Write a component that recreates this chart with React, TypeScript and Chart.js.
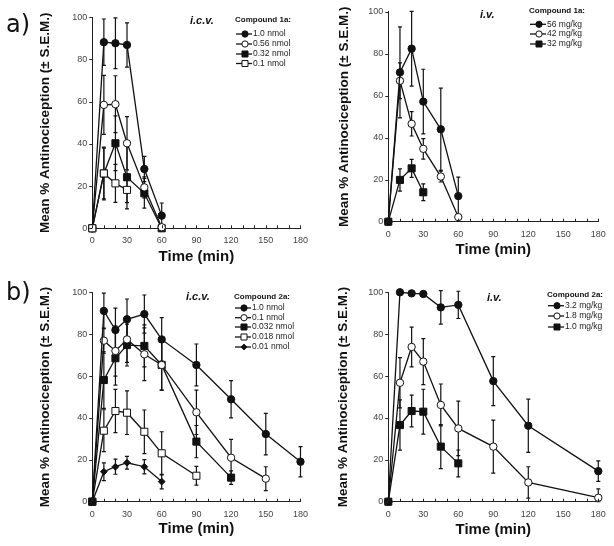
import { useEffect, useRef } from 'react';
import { Chart, registerables } from 'chart.js';
Chart.register(...registerables);

// ---------- DATA ----------
const timesShort = [0, 10, 20, 30, 45, 60];
const timesShort3 = [0, 10, 20, 30];
const timesLong = [0, 10, 20, 30, 45, 60, 90, 120, 150, 180];
const timesIv2 = [0, 10, 20, 30, 45, 60, 90, 120, 180];

// a) Compound 1a i.c.v.
const icv1a_10 = [0, 88.2, 87.7, 86.9, 28.1, 6.0];
const icv1a_10_sem = [0, 11, 12, 10.5, 6, 6];
const icv1a_056 = [0, 58.5, 58.8, 40.3, 19.4, 0.5];
const icv1a_056_sem = [0, 14, 13.5, 12.6, 5, 0];
const icv1a_032 = [0, 26, 40.3, 24.2, 16.6, 0];
const icv1a_032_sem = [0, 12, 13, 15, 7, 0];
const icv1a_01 = [0, 26, 21.3, 18.2];
const icv1a_01_sem = [0, 12.5, 9, 6];

// a) Compound 1a i.v.
const iv1a_56 = [0, 71.1, 82.4, 57.2, 44, 12.2];
const iv1a_56_sem = [0, 21.7, 17.8, 15.4, 19.6, 9];
const iv1a_42 = [0, 67.1, 46.6, 34.7, 21.5, 2.2];
const iv1a_42_sem = [0, 8.5, 5.8, 4.9, 2.6, 0];
const iv1a_32 = [0, 19.9, 25.4, 14];
const iv1a_32_sem = [0, 5.3, 4.3, 4];

// b) Compound 2a i.c.v.
const icv2a_10 = [0, 91.1, 82, 87.1, 89.6, 77.5, 65.3, 48.9, 32.3, 19.1];
const icv2a_10_sem = [0, 8.5, 10.4, 9.7, 9.1, 10.4, 10, 8.9, 9.9, 7.2];
const icv2a_01 = [0, 76.9, 72, 77.5, 70.4, 65.3, 42.7, 21, 11];
const icv2a_01_sem = [0, 6, 12, 11, 12.6, 12, 10.6, 8.8, 5.7];
const icv2a_0032 = [0, 58.1, 68.5, 74.8, 74.4, 65.3, 28.7, 11.5];
const icv2a_0032_sem = [0, 13.5, 12.8, 10, 10, 12, 7.7, 3.2];
const icv2a_0018 = [0, 33.9, 43.3, 42.5, 33.4, 23.1, 12.4];
const icv2a_0018_sem = [0, 10, 10.3, 10.4, 10.4, 10.3, 4.5];
const icv2a_001 = [0, 14.3, 16.7, 18.6, 16.7, 9.6];
const icv2a_001_sem = [0, 4.2, 3.6, 3, 3.4, 3.5];

// b) Compound 2a i.v.
const iv2a_32 = [0, 100, 99.5, 99.2, 92.8, 94, 57.6, 36.3, 14.6];
const iv2a_32_sem = [0, 0, 0, 0, 8, 6.5, 11.7, 12.7, 4.9];
const iv2a_18 = [0, 56.8, 73.9, 66.9, 46.2, 35, 26.3, 9.2, 1.9];
const iv2a_18_sem = [0, 12, 9.5, 11, 10, 13, 12.7, 7.5, 4.2];
const iv2a_10 = [0, 36.6, 43.3, 43, 26.3, 18.3];
const iv2a_10_sem = [0, 12, 7.6, 10.7, 10.5, 6.4];

const xTickLabels = [0, 30, 60, 90, 120, 150, 180];
const yTitle = 'Mean % Antinociception (± S.E.M.)';
const xTitle = 'Time (min)';

type Marker = 'fc' | 'oc' | 'fs' | 'os' | 'fd';
type Series = { label: string; times: number[]; values: number[]; sem: number[]; marker: Marker; order?: number };

const panelA1: Series[] = [
  { label: '1.0 nmol', times: timesShort, values: icv1a_10, sem: icv1a_10_sem, marker: 'fc' },
  { label: '0.56 nmol', times: timesShort, values: icv1a_056, sem: icv1a_056_sem, marker: 'oc' },
  { label: '0.32 nmol', times: timesShort, values: icv1a_032, sem: icv1a_032_sem, marker: 'fs' },
  { label: '0.1 nmol', times: timesShort3, values: icv1a_01, sem: icv1a_01_sem, marker: 'os', order: -1 },
];
const panelA2: Series[] = [
  { label: '56 mg/kg', times: timesShort, values: iv1a_56, sem: iv1a_56_sem, marker: 'fc' },
  { label: '42 mg/kg', times: timesShort, values: iv1a_42, sem: iv1a_42_sem, marker: 'oc' },
  { label: '32 mg/kg', times: timesShort3, values: iv1a_32, sem: iv1a_32_sem, marker: 'fs' },
];
const panelB1: Series[] = [
  { label: '1.0 nmol', times: timesLong, values: icv2a_10, sem: icv2a_10_sem, marker: 'fc' },
  { label: '0.1 nmol', times: timesLong, values: icv2a_01, sem: icv2a_01_sem, marker: 'oc' },
  { label: '0.032 nmol', times: timesLong, values: icv2a_0032, sem: icv2a_0032_sem, marker: 'fs' },
  { label: '0.018 nmol', times: timesLong, values: icv2a_0018, sem: icv2a_0018_sem, marker: 'os' },
  { label: '0.01 nmol', times: timesLong, values: icv2a_001, sem: icv2a_001_sem, marker: 'fd' },
];
const panelB2: Series[] = [
  { label: '3.2 mg/kg', times: timesIv2, values: iv2a_32, sem: iv2a_32_sem, marker: 'fc' },
  { label: '1.8 mg/kg', times: timesIv2, values: iv2a_18, sem: iv2a_18_sem, marker: 'oc' },
  { label: '1.0 mg/kg', times: timesIv2, values: iv2a_10, sem: iv2a_10_sem, marker: 'fs' },
];

// ---------- STYLE / LAYOUT ----------
const FONT = "'Liberation Sans', Arial, sans-serif";
const INK = '#111';

const markerStyle: Record<Marker, { style: string; fill: string; r: number }> = {
  fc: { style: 'circle', fill: INK, r: 3.7 },
  oc: { style: 'circle', fill: '#fff', r: 3.7 },
  fs: { style: 'rect', fill: INK, r: 5 },
  os: { style: 'rect', fill: '#fff', r: 5 },
  fd: { style: 'rectRot', fill: INK, r: 3.4 },
};

type PanelCfg = {
  series: Series[];
  left: number; top: number; w: number; h: number;
  area: { l: number; t: number; r: number; b: number };
  yTitleX: number; xTitleY: number;
  route: string; routeX: number; routeY: number;
  legTitle: string; legX: number; legTitleY: number; legRows: number[];
};

const panels: PanelCfg[] = [
  {
    series: panelA1, left: 0, top: 0, w: 315, h: 270,
    area: { l: 92.3, t: 17.3, r: 303.3, b: 228.3 }, yTitleX: 45.5, xTitleY: 257,
    route: 'i.c.v.', routeX: 190, routeY: 21,
    legTitle: 'Compound 1a:', legX: 235, legTitleY: 20, legRows: [34, 44, 54, 63.5],
  },
  {
    series: panelA2, left: 305, top: 0, w: 309, h: 270,
    area: { l: 388.3, t: 11.7, r: 598.3, b: 221.7 }, yTitleX: 344, xTitleY: 250,
    route: 'i.v.', routeX: 480, routeY: 15,
    legTitle: 'Compound 1a:', legX: 529, legTitleY: 11, legRows: [24.3, 34, 44],
  },
  {
    series: panelB1, left: 0, top: 272, w: 315, h: 274,
    area: { l: 92.3, t: 292.3, r: 303.3, b: 501.7 }, yTitleX: 45, xTitleY: 529,
    route: 'i.c.v.', routeX: 186, routeY: 297,
    legTitle: 'Compound 2a:', legX: 234, legTitleY: 296.5, legRows: [308, 317.7, 327, 337, 347],
  },
  {
    series: panelB2, left: 305, top: 272, w: 309, h: 274,
    area: { l: 388.3, t: 292.3, r: 598.3, b: 501.7 }, yTitleX: 343, xTitleY: 530,
    route: 'i.v.', routeX: 487, routeY: 298,
    legTitle: 'Compound 2a:', legX: 547, legTitleY: 294.3, legRows: [305.7, 316, 327],
  },
];

function drawMarker(ctx: CanvasRenderingContext2D, m: Marker, x: number, y: number, scale = 1) {
  const ms = markerStyle[m];
  ctx.beginPath();
  if (ms.style === 'circle') {
    ctx.arc(x, y, ms.r * scale, 0, Math.PI * 2);
  } else if (ms.style === 'rect') {
    const s = ms.r * Math.SQRT1_2 * scale;
    ctx.rect(x - s, y - s, 2 * s, 2 * s);
  } else {
    const s = ms.r * scale;
    ctx.moveTo(x, y - s); ctx.lineTo(x + s, y); ctx.lineTo(x, y + s); ctx.lineTo(x - s, y); ctx.closePath();
  }
  ctx.fillStyle = ms.fill;
  ctx.fill();
  ctx.lineWidth = 1;
  ctx.strokeStyle = INK;
  ctx.stroke();
}

function makeChart(canvas: HTMLCanvasElement, cfg: PanelCfg) {
  const yTitleFont = 13.5;
  const xTitleFont = 15;
  const pL = cfg.yTitleX - cfg.left - (yTitleFont * 1.2) / 2;
  const yW = cfg.area.l - cfg.left - pL;
  const pT = cfg.area.t - cfg.top;
  const pR = cfg.left + cfg.w - cfg.area.r;
  const xH = cfg.top + cfg.h - cfg.area.b;
  const xTitlePad = cfg.top + cfg.h - cfg.xTitleY - (xTitleFont * 1.2) / 2;

  const datasets = cfg.series.map((s) => {
    const ms = markerStyle[s.marker];
    return {
      label: s.label,
      data: s.times.map((t, i) => ({ x: t, y: s.values[i] })),
      sem: s.sem,
      marker: s.marker,
      borderColor: INK,
      backgroundColor: ms.fill,
      borderWidth: 1.3,
      pointStyle: ms.style,
      pointRadius: ms.r,
      pointBackgroundColor: ms.fill,
      pointBorderColor: INK,
      pointBorderWidth: 1,
      tension: 0,
      clip: false,
      order: s.order ?? 0,
    };
  });

  const errorBars = {
    id: 'errorBars',
    beforeDatasetsDraw(chart: any) {
      const { ctx } = chart;
      const xs = chart.scales.x, ys = chart.scales.y;
      ctx.save();
      ctx.strokeStyle = INK;
      ctx.lineWidth = 1.2;
      chart.data.datasets.forEach((ds: any) => {
        ds.data.forEach((p: any, i: number) => {
          const s = ds.sem[i];
          if (!s) return;
          const px = xs.getPixelForValue(p.x);
          const top = ys.getPixelForValue(p.y + s);
          const bot = ys.getPixelForValue(Math.max(0, p.y - s));
          ctx.beginPath();
          ctx.moveTo(px, top); ctx.lineTo(px, bot);
          ctx.moveTo(px - 2, top); ctx.lineTo(px + 2, top);
          ctx.moveTo(px - 2, bot); ctx.lineTo(px + 2, bot);
          ctx.stroke();
        });
      });
      ctx.restore();
    },
  };

  const axisTicks = {
    id: 'axisTicks',
    afterDraw(chart: any) {
      const { ctx, chartArea } = chart;
      const xs = chart.scales.x, ys = chart.scales.y;
      ctx.save();
      ctx.strokeStyle = '#222';
      ctx.lineWidth = 1;
      ctx.beginPath();
      xs.ticks.forEach((t: any) => {
        const px = Math.round(xs.getPixelForValue(t.value)) + 0.5;
        ctx.moveTo(px, chartArea.bottom); ctx.lineTo(px, chartArea.bottom - 3);
      });
      ys.ticks.forEach((t: any) => {
        const py = Math.round(ys.getPixelForValue(t.value)) + 0.5;
        ctx.moveTo(chartArea.left, py); ctx.lineTo(chartArea.left - 3, py);
      });
      ctx.stroke();
      ctx.restore();
    },
  };

  const deco = {
    id: 'deco',
    afterDraw(chart: any) {
      const ctx: CanvasRenderingContext2D = chart.ctx;
      const ox = cfg.left, oy = cfg.top;
      ctx.save();
      ctx.fillStyle = INK;
      ctx.textBaseline = 'middle';
      ctx.textAlign = 'left';
      ctx.font = `italic bold 11px ${FONT}`;
      ctx.fillText(cfg.route, cfg.routeX - ox, cfg.routeY - oy);
      ctx.font = `bold 8px ${FONT}`;
      ctx.fillText(cfg.legTitle, cfg.legX - ox, cfg.legTitleY - oy);
      cfg.series.forEach((s, i) => {
        const y = cfg.legRows[i] - oy;
        const x0 = cfg.legX + 1 - ox;
        ctx.beginPath();
        ctx.strokeStyle = INK;
        ctx.lineWidth = 1.3;
        ctx.moveTo(x0, y); ctx.lineTo(x0 + 16, y);
        ctx.stroke();
        drawMarker(ctx, s.marker, x0 + 9, y, 0.85);
        ctx.fillStyle = '#222';
        ctx.font = `8.5px ${FONT}`;
        ctx.fillText(s.label, x0 + 17, y);
      });
      ctx.restore();
    },
  };

  return new Chart(canvas, {
    type: 'line',
    data: { datasets: datasets as any },
    options: {
      animation: false,
      responsive: false,
      devicePixelRatio: 1,
      layout: { padding: { left: pL, top: pT, right: pR, bottom: 0 } },
      plugins: { legend: { display: false }, tooltip: { enabled: false } },
      scales: {
        x: {
          type: 'linear',
          min: 0,
          max: 180,
          afterFit: (s: any) => { s.height = xH; },
          grid: { display: true, drawOnChartArea: false, drawTicks: false },
          border: { display: true, color: '#222', width: 1 },
          ticks: {
            stepSize: 10,
            autoSkip: false,
            maxRotation: 0,
            padding: 7,
            color: '#444',
            font: { family: FONT, size: 9 },
            callback: (v: any) => (xTickLabels.includes(Number(v)) ? String(v) : ''),
          },
          title: {
            display: true,
            text: xTitle,
            color: INK,
            font: { family: FONT, size: xTitleFont, weight: 'bold' },
            padding: { top: 0, bottom: xTitlePad },
          },
        },
        y: {
          min: 0,
          max: 100,
          afterFit: (s: any) => { s.width = yW; },
          grid: { display: true, drawOnChartArea: false, drawTicks: false },
          border: { display: true, color: '#222', width: 1 },
          ticks: { stepSize: 20, padding: 5, color: '#444', font: { family: FONT, size: 9 } },
          title: {
            display: true,
            text: yTitle,
            color: INK,
            font: { family: FONT, size: yTitleFont, weight: 'bold' },
            padding: { top: 0, bottom: 0 },
          },
        },
      },
    } as any,
    plugins: [errorBars, axisTicks, deco],
  });
}

function Panel({ cfg }: { cfg: PanelCfg }) {
  const ref = useRef<HTMLCanvasElement>(null);
  useEffect(() => {
    const chart = makeChart(ref.current!, cfg);
    return () => chart.destroy();
  }, [cfg]);
  return (
    <canvas
      ref={ref}
      width={cfg.w}
      height={cfg.h}
      style={{ position: 'absolute', left: cfg.left, top: cfg.top, width: cfg.w, height: cfg.h }}
    />
  );
}

export default function App() {
  const labelStyle: any = {
    position: 'absolute',
    fontFamily: "'DejaVu Sans', Verdana, sans-serif",
    fontSize: 24,
    lineHeight: '28px',
    color: INK,
    left: 6,
  };
  return (
    <div style={{ position: 'absolute', left: 0, top: 0, width: 614, height: 546, background: '#fff', overflow: 'hidden' }}>
      {panels.map((p, i) => (
        <Panel key={i} cfg={p} />
      ))}
      <div style={{ ...labelStyle, top: 10 }}>a)</div>
      <div style={{ ...labelStyle, top: 278 }}>b)</div>
    </div>
  );
}
